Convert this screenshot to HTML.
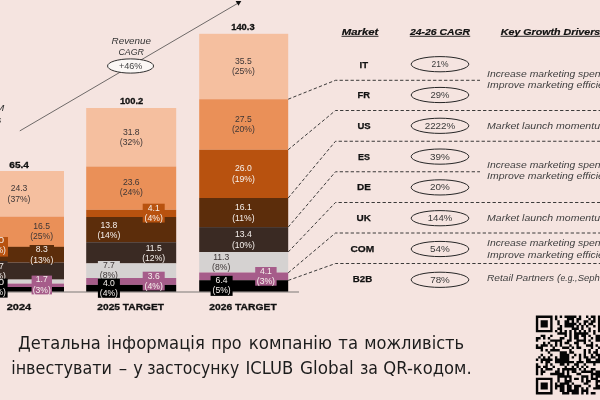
<!DOCTYPE html>
<html lang="uk"><head><meta charset="utf-8"><title>ICLUB Global</title>
<style>
html,body{margin:0;padding:0;background:#f5e4e0;}
body{width:600px;height:400px;overflow:hidden;}
svg{display:block;}
text{font-family:"Liberation Sans",sans-serif;}
.l{font-size:8.6px;text-anchor:middle;}
.t{font-size:9.2px;font-weight:bold;text-anchor:middle;fill:#111;stroke:#111;stroke-width:0.3px;}
.y{font-size:9.8px;font-weight:bold;text-anchor:middle;fill:#111;stroke:#111;stroke-width:0.3px;}
.i{font-size:8.6px;font-style:italic;fill:#333;}
.h{font-size:9px;font-weight:bold;font-style:italic;fill:#111;stroke:#111;stroke-width:0.2px;}
.m{font-size:9.3px;font-weight:bold;text-anchor:middle;fill:#111;stroke:#111;stroke-width:0.25px;}
.p{font-size:9.3px;text-anchor:middle;fill:#3a3a3a;}
.g{font-size:8.6px;font-style:italic;fill:#404040;}
.d{fill:none;stroke:#262626;stroke-width:0.9;stroke-dasharray:3.3 2.2;}
.u{font-size:17.2px;fill:#1c1c1c;font-family:"DejaVu Sans","Liberation Sans",sans-serif;}
</style></head><body>
<svg width="600" height="400" viewBox="0 0 600 400">
<rect x="0" y="0" width="600" height="400" fill="#f5e4e0"/>
<rect x="-26" y="171" width="90" height="45.6" fill="#f5bf9f"/>
<rect x="-26" y="216.6" width="90" height="29.8" fill="#ea9058"/>
<rect x="-26" y="246.4" width="90" height="0.6" fill="#b8520f"/>
<rect x="-26" y="247" width="90" height="15.6" fill="#5c2d0b"/>
<rect x="-26" y="262.6" width="90" height="17.0" fill="#3a2a23"/>
<rect x="-26" y="279.6" width="90" height="4.0" fill="#d5d2d1"/>
<rect x="-26" y="283.6" width="90" height="3.4" fill="#a65c8a"/>
<rect x="-26" y="287" width="90" height="4.8" fill="#000000"/>
<rect x="86.2" y="108" width="90" height="58.5" fill="#f5bf9f"/>
<rect x="86.2" y="166.5" width="90" height="43.3" fill="#ea9058"/>
<rect x="86.2" y="209.8" width="90" height="7.2" fill="#b8520f"/>
<rect x="86.2" y="217" width="90" height="25.2" fill="#5c2d0b"/>
<rect x="86.2" y="242.2" width="90" height="21.2" fill="#3a2a23"/>
<rect x="86.2" y="263.4" width="90" height="14.6" fill="#d5d2d1"/>
<rect x="86.2" y="278" width="90" height="6.9" fill="#a65c8a"/>
<rect x="86.2" y="284.9" width="90" height="6.9" fill="#000000"/>
<rect x="199.2" y="33.8" width="89" height="65.4" fill="#f5bf9f"/>
<rect x="199.2" y="99.2" width="89" height="50.5" fill="#ea9058"/>
<rect x="199.2" y="149.7" width="89" height="48.3" fill="#b8520f"/>
<rect x="199.2" y="198" width="89" height="29.1" fill="#5c2d0b"/>
<rect x="199.2" y="227.1" width="89" height="24.9" fill="#3a2a23"/>
<rect x="199.2" y="252" width="89" height="20.5" fill="#d5d2d1"/>
<rect x="199.2" y="272.5" width="89" height="7.7" fill="#a65c8a"/>
<rect x="199.2" y="280.2" width="89" height="11.6" fill="#000000"/>
<rect x="0" y="291.5" width="299" height="1" fill="#7d7876"/>
<text x="19" y="191.3" class="l" fill="#3d3636">24.3</text>
<text x="19" y="201.5" class="l" fill="#3d3636">(37%)</text>
<text x="41.6" y="229.1" class="l" fill="#3d3636">16.5</text>
<text x="41.6" y="239.3" class="l" fill="#3d3636">(25%)</text>
<rect x="29.6" y="245" width="24.4" height="18.6" fill="#5c2d0b"/>
<text x="41.8" y="252.3" class="l" fill="#f6f0ec">8.3</text>
<text x="41.8" y="262.5" class="l" fill="#f6f0ec">(13%)</text>
<rect x="31.6" y="275.6" width="20.4" height="18.8" fill="#a65c8a"/>
<text x="41.8" y="282.3" class="l" fill="#f6f0ec">1.7</text>
<text x="41.8" y="292.5" class="l" fill="#f6f0ec">(3%)</text>
<rect x="-16" y="237" width="24" height="19.6" fill="#b8520f"/>
<text x="-2.9" y="243.1" class="l" fill="#f6f0ec" textLength="14" lengthAdjust="spacingAndGlyphs">1.0</text>
<text x="-3.2" y="253.3" class="l" fill="#f6f0ec">(2%)</text>
<rect x="-16" y="261" width="23.6" height="19" fill="#3a2a23"/>
<text x="-2.2" y="268.7" class="l" fill="#f6f0ec">5.7</text>
<text x="-3.2" y="278.9" class="l" fill="#f6f0ec">(9%)</text>
<rect x="-16" y="278.6" width="23.6" height="19.0" fill="#000000"/>
<text x="-2.9" y="285.1" class="l" fill="#f6f0ec" textLength="14" lengthAdjust="spacingAndGlyphs">2.0</text>
<text x="-3.2" y="295.3" class="l" fill="#f6f0ec">(3%)</text>
<text x="131.3" y="135.1" class="l" fill="#3d3636">31.8</text>
<text x="131.3" y="145.3" class="l" fill="#3d3636">(32%)</text>
<text x="131.3" y="185.1" class="l" fill="#3d3636">23.6</text>
<text x="131.3" y="195.3" class="l" fill="#3d3636">(24%)</text>
<rect x="142.7" y="203.7" width="22.0" height="18.8" fill="#b8520f"/>
<text x="153.7" y="211.2" class="l" fill="#f6f0ec">4.1</text>
<text x="153.7" y="221.4" class="l" fill="#f6f0ec">(4%)</text>
<text x="108.9" y="227.8" class="l" fill="#f6f0ec">13.8</text>
<text x="108.9" y="238.0" class="l" fill="#f6f0ec">(14%)</text>
<text x="153.7" y="250.7" class="l" fill="#f6f0ec">11.5</text>
<text x="153.7" y="260.9" class="l" fill="#f6f0ec">(12%)</text>
<rect x="97.9" y="261" width="22.0" height="18" fill="#d5d2d1"/>
<text x="108.9" y="267.5" class="l" fill="#3d3636">7.7</text>
<text x="108.9" y="277.7" class="l" fill="#3d3636">(8%)</text>
<rect x="142.7" y="271.7" width="22.0" height="18.7" fill="#a65c8a"/>
<text x="153.7" y="279.1" class="l" fill="#f6f0ec">3.6</text>
<text x="153.7" y="289.3" class="l" fill="#f6f0ec">(4%)</text>
<rect x="97.9" y="278.5" width="22.0" height="19.3" fill="#000000"/>
<text x="108.9" y="285.95" class="l" fill="#f6f0ec">4.0</text>
<text x="108.9" y="296.15" class="l" fill="#f6f0ec">(4%)</text>
<text x="243.4" y="63.7" class="l" fill="#3d3636">35.5</text>
<text x="243.4" y="73.9" class="l" fill="#3d3636">(25%)</text>
<text x="243.4" y="121.9" class="l" fill="#3d3636">27.5</text>
<text x="243.4" y="132.1" class="l" fill="#3d3636">(20%)</text>
<text x="243.4" y="171.4" class="l" fill="#f6f0ec">26.0</text>
<text x="243.4" y="181.6" class="l" fill="#f6f0ec">(19%)</text>
<text x="243.4" y="210.3" class="l" fill="#f6f0ec">16.1</text>
<text x="243.4" y="220.5" class="l" fill="#f6f0ec">(11%)</text>
<text x="243.4" y="237.3" class="l" fill="#f6f0ec">13.4</text>
<text x="243.4" y="247.5" class="l" fill="#f6f0ec">(10%)</text>
<text x="221.2" y="259.8" class="l" fill="#3d3636">11.3</text>
<text x="221.2" y="270.0" class="l" fill="#3d3636">(8%)</text>
<rect x="255.2" y="267" width="21.4" height="18.7" fill="#a65c8a"/>
<text x="265.9" y="273.6" class="l" fill="#f6f0ec">4.1</text>
<text x="265.9" y="283.8" class="l" fill="#f6f0ec">(3%)</text>
<rect x="210.6" y="275.8" width="22.0" height="20.1" fill="#000000"/>
<text x="221.6" y="283.2" class="l" fill="#f6f0ec">6.4</text>
<text x="221.6" y="293.4" class="l" fill="#f6f0ec">(5%)</text>
<text x="19.15" y="168" class="t" textLength="19.7" lengthAdjust="spacingAndGlyphs">65.4</text>
<text x="131.6" y="103.8" class="t" textLength="23.4" lengthAdjust="spacingAndGlyphs">100.2</text>
<text x="242.9" y="29.6" class="t" textLength="23.4" lengthAdjust="spacingAndGlyphs">140.3</text>
<text x="19" y="309.6" class="y" textLength="24.5" lengthAdjust="spacingAndGlyphs">2024</text>
<text x="130.65" y="309.6" class="y" textLength="66.7" lengthAdjust="spacingAndGlyphs">2025 TARGET</text>
<text x="243" y="309.6" class="y" textLength="67.4" lengthAdjust="spacingAndGlyphs">2026 TARGET</text>
<line x1="19.8" y1="130.9" x2="237.8" y2="3.3" stroke="#333" stroke-width="0.7"/>
<polygon points="235.6,1.1 241.3,1.1 238.5,5.7" fill="#111"/>
<text x="131.3" y="44.1" class="i" text-anchor="middle" textLength="39.4" lengthAdjust="spacingAndGlyphs">Revenue</text>
<text x="131.2" y="54.7" class="i" text-anchor="middle" textLength="25.6" lengthAdjust="spacingAndGlyphs">CAGR</text>
<ellipse cx="130.55" cy="66" rx="23" ry="7.1" fill="#fbf7f5" stroke="#1a1a1a" stroke-width="0.9"/>
<text x="130.7" y="69" class="l" fill="#444" textLength="23.5" lengthAdjust="spacingAndGlyphs">+46%</text>
<text x="4.4" y="110.6" class="i" text-anchor="end" textLength="32" lengthAdjust="spacingAndGlyphs">EURM</text>
<text x="1.2" y="123.4" class="i" text-anchor="end">Sales</text>
<text x="360" y="34.5" class="h" text-anchor="middle" textLength="36.5" lengthAdjust="spacingAndGlyphs">Market</text>
<rect x="341.5" y="35.8" width="37" height="0.9" fill="#111"/>
<text x="440" y="34.5" class="h" text-anchor="middle" textLength="60" lengthAdjust="spacingAndGlyphs">24-26 CAGR</text>
<rect x="409.8" y="35.8" width="60.4" height="0.9" fill="#111"/>
<text x="500.8" y="34.5" class="h" textLength="99.5" lengthAdjust="spacingAndGlyphs">Key Growth Drivers</text>
<rect x="500.6" y="35.8" width="99.4" height="0.9" fill="#111"/>
<text x="363.75" y="67.8" class="m" textLength="8.5" lengthAdjust="spacingAndGlyphs">IT</text>
<ellipse cx="440" cy="64.2" rx="28.8" ry="7.6" fill="none" stroke="#262626" stroke-width="1"/>
<text x="440" y="67.4" class="p" textLength="17.0" lengthAdjust="spacingAndGlyphs">21%</text>
<text x="363.75" y="98.45" class="m" textLength="12.5" lengthAdjust="spacingAndGlyphs">FR</text>
<ellipse cx="440" cy="95.0" rx="28.8" ry="7.6" fill="none" stroke="#262626" stroke-width="1"/>
<text x="440" y="98.15" class="p" textLength="19.0" lengthAdjust="spacingAndGlyphs">29%</text>
<text x="364.0" y="129.1" class="m" textLength="13.2" lengthAdjust="spacingAndGlyphs">US</text>
<ellipse cx="440" cy="125.8" rx="28.8" ry="7.6" fill="none" stroke="#262626" stroke-width="1"/>
<text x="440" y="128.9" class="p" textLength="30.6" lengthAdjust="spacingAndGlyphs">2222%</text>
<text x="364.0" y="159.75" class="m" textLength="12" lengthAdjust="spacingAndGlyphs">ES</text>
<ellipse cx="440" cy="156.6" rx="28.8" ry="7.6" fill="none" stroke="#262626" stroke-width="1"/>
<text x="440" y="159.65" class="p" textLength="19.8" lengthAdjust="spacingAndGlyphs">39%</text>
<text x="364.0" y="190.4" class="m" textLength="13.8" lengthAdjust="spacingAndGlyphs">DE</text>
<ellipse cx="440" cy="187.4" rx="28.8" ry="7.6" fill="none" stroke="#262626" stroke-width="1"/>
<text x="440" y="190.4" class="p" textLength="19.8" lengthAdjust="spacingAndGlyphs">20%</text>
<text x="363.7" y="221.05" class="m" textLength="14.4" lengthAdjust="spacingAndGlyphs">UK</text>
<ellipse cx="440" cy="218.2" rx="28.8" ry="7.6" fill="none" stroke="#262626" stroke-width="1"/>
<text x="440" y="221.15" class="p" textLength="24.6" lengthAdjust="spacingAndGlyphs">144%</text>
<text x="362.4" y="251.7" class="m" textLength="23.8" lengthAdjust="spacingAndGlyphs">COM</text>
<ellipse cx="440" cy="249.0" rx="28.8" ry="7.6" fill="none" stroke="#262626" stroke-width="1"/>
<text x="440" y="251.9" class="p" textLength="19.8" lengthAdjust="spacingAndGlyphs">54%</text>
<text x="362.5" y="282.35" class="m" textLength="19.4" lengthAdjust="spacingAndGlyphs">B2B</text>
<ellipse cx="440" cy="279.8" rx="28.8" ry="7.6" fill="none" stroke="#262626" stroke-width="1"/>
<text x="440" y="282.65" class="p" textLength="19.6" lengthAdjust="spacingAndGlyphs">78%</text>
<polyline points="288.2,99.2 335.5,80.3 480,80.3" class="d"/>
<polyline points="288.2,149.7 335.5,110.5 600,110.5" class="d"/>
<polyline points="288.2,198 335.5,141.25 600,141.25" class="d"/>
<polyline points="288.2,227.1 335.5,171.75 480,171.75" class="d"/>
<polyline points="288.2,252 335.5,202.5 600,202.5" class="d"/>
<polyline points="288.2,272.8 335.5,233 600,233" class="d"/>
<polyline points="288.2,280.4 335.5,263.5 600,263.5" class="d"/>
<text x="487" y="76.7" class="g" textLength="119.4" lengthAdjust="spacingAndGlyphs">Increase marketing spend</text>
<text x="487" y="87.6" class="g" textLength="133.2" lengthAdjust="spacingAndGlyphs">Improve marketing efficiency</text>
<text x="487" y="128.8" class="g" textLength="121.8" lengthAdjust="spacingAndGlyphs">Market launch momentum</text>
<text x="487" y="167.5" class="g" textLength="119.4" lengthAdjust="spacingAndGlyphs">Increase marketing spend</text>
<text x="487" y="178.8" class="g" textLength="133.2" lengthAdjust="spacingAndGlyphs">Improve marketing efficiency</text>
<text x="487" y="220.8" class="g" textLength="121.8" lengthAdjust="spacingAndGlyphs">Market launch momentum</text>
<text x="487" y="245.8" class="g" textLength="119.4" lengthAdjust="spacingAndGlyphs">Increase marketing spend</text>
<text x="487" y="257.5" class="g" textLength="133.2" lengthAdjust="spacingAndGlyphs">Improve marketing efficiency</text>
<text x="487" y="280.8" class="g" textLength="73.3" lengthAdjust="spacingAndGlyphs">Retail Partners (</text>
<text x="560.5" y="280.8" class="g" textLength="16.8" lengthAdjust="spacingAndGlyphs">e.g.,</text>
<text x="577.8" y="280.8" class="g" textLength="38.9" lengthAdjust="spacingAndGlyphs">Sephora)</text>
<text x="18.0" y="348.9" class="u" textLength="82.8" lengthAdjust="spacingAndGlyphs">Детальна</text>
<text x="106.8" y="348.9" class="u" textLength="98.0" lengthAdjust="spacingAndGlyphs">інформація</text>
<text x="211.2" y="348.9" class="u" textLength="30.5" lengthAdjust="spacingAndGlyphs">про</text>
<text x="248.7" y="348.9" class="u" textLength="83.3" lengthAdjust="spacingAndGlyphs">компанію</text>
<text x="338.3" y="348.9" class="u" textLength="19.7" lengthAdjust="spacingAndGlyphs">та</text>
<text x="364.2" y="348.9" class="u" textLength="100.0" lengthAdjust="spacingAndGlyphs">можливість</text>
<text x="11.2" y="374.1" class="u" textLength="100.8" lengthAdjust="spacingAndGlyphs">інвестувати</text>
<text x="118.8" y="374.1" class="u" textLength="8.4" lengthAdjust="spacingAndGlyphs">–</text>
<text x="133.2" y="374.1" class="u" textLength="9.6" lengthAdjust="spacingAndGlyphs">у</text>
<text x="147.2" y="374.1" class="u" textLength="92.0" lengthAdjust="spacingAndGlyphs">застосунку</text>
<text x="245.4" y="374.1" class="u" textLength="47.9" lengthAdjust="spacingAndGlyphs">ICLUB</text>
<text x="300" y="374.1" class="u" textLength="53.7" lengthAdjust="spacingAndGlyphs">Global</text>
<text x="360" y="374.1" class="u" textLength="18" lengthAdjust="spacingAndGlyphs">за</text>
<text x="383.3" y="374.1" class="u" textLength="88.4" lengthAdjust="spacingAndGlyphs">QR-кодом.</text>
<path fill="#050505" d="M535.85 315.55h16.72v2.42h-16.72zM554.95 315.55h2.39v2.42h-2.39zM559.73 315.55h2.39v2.42h-2.39zM564.51 315.55h11.94v2.42h-11.94zM578.83 315.55h2.39v2.42h-2.39zM586.00 315.55h2.39v2.42h-2.39zM590.77 315.55h4.78v2.42h-4.78zM597.94 315.55h16.72v2.42h-16.72zM535.85 317.94h2.39v2.42h-2.39zM550.18 317.94h2.39v2.42h-2.39zM554.95 317.94h2.39v2.42h-2.39zM566.89 317.94h7.16v2.42h-7.16zM576.45 317.94h4.78v2.42h-4.78zM588.39 317.94h2.39v2.42h-2.39zM593.16 317.94h2.39v2.42h-2.39zM597.94 317.94h2.39v2.42h-2.39zM612.27 317.94h2.39v2.42h-2.39zM535.85 320.33h2.39v2.42h-2.39zM540.63 320.33h7.16v2.42h-7.16zM550.18 320.33h2.39v2.42h-2.39zM557.34 320.33h2.39v2.42h-2.39zM564.51 320.33h4.78v2.42h-4.78zM571.67 320.33h2.39v2.42h-2.39zM576.45 320.33h2.39v2.42h-2.39zM583.61 320.33h4.78v2.42h-4.78zM590.77 320.33h4.78v2.42h-4.78zM597.94 320.33h2.39v2.42h-2.39zM602.71 320.33h7.16v2.42h-7.16zM612.27 320.33h2.39v2.42h-2.39zM535.85 322.71h2.39v2.42h-2.39zM540.63 322.71h7.16v2.42h-7.16zM550.18 322.71h2.39v2.42h-2.39zM557.34 322.71h2.39v2.42h-2.39zM564.51 322.71h11.94v2.42h-11.94zM578.83 322.71h2.39v2.42h-2.39zM583.61 322.71h2.39v2.42h-2.39zM588.39 322.71h4.78v2.42h-4.78zM597.94 322.71h2.39v2.42h-2.39zM602.71 322.71h7.16v2.42h-7.16zM612.27 322.71h2.39v2.42h-2.39zM535.85 325.10h2.39v2.42h-2.39zM540.63 325.10h7.16v2.42h-7.16zM550.18 325.10h2.39v2.42h-2.39zM559.73 325.10h2.39v2.42h-2.39zM564.51 325.10h9.55v2.42h-9.55zM576.45 325.10h2.39v2.42h-2.39zM581.22 325.10h2.39v2.42h-2.39zM586.00 325.10h2.39v2.42h-2.39zM593.16 325.10h2.39v2.42h-2.39zM597.94 325.10h2.39v2.42h-2.39zM602.71 325.10h7.16v2.42h-7.16zM612.27 325.10h2.39v2.42h-2.39zM535.85 327.49h2.39v2.42h-2.39zM550.18 327.49h2.39v2.42h-2.39zM557.34 327.49h4.78v2.42h-4.78zM571.67 327.49h7.16v2.42h-7.16zM581.22 327.49h2.39v2.42h-2.39zM588.39 327.49h2.39v2.42h-2.39zM597.94 327.49h2.39v2.42h-2.39zM612.27 327.49h2.39v2.42h-2.39zM535.85 329.88h16.72v2.42h-16.72zM554.95 329.88h2.39v2.42h-2.39zM559.73 329.88h2.39v2.42h-2.39zM564.51 329.88h2.39v2.42h-2.39zM569.28 329.88h2.39v2.42h-2.39zM574.06 329.88h2.39v2.42h-2.39zM578.83 329.88h2.39v2.42h-2.39zM583.61 329.88h2.39v2.42h-2.39zM588.39 329.88h2.39v2.42h-2.39zM593.16 329.88h2.39v2.42h-2.39zM597.94 329.88h16.72v2.42h-16.72zM557.34 332.27h9.55v2.42h-9.55zM569.28 332.27h2.39v2.42h-2.39zM574.06 332.27h14.33v2.42h-14.33zM593.16 332.27h2.39v2.42h-2.39zM540.63 334.65h4.78v2.42h-4.78zM550.18 334.65h2.39v2.42h-2.39zM564.51 334.65h2.39v2.42h-2.39zM569.28 334.65h2.39v2.42h-2.39zM574.06 334.65h4.78v2.42h-4.78zM581.22 334.65h4.78v2.42h-4.78zM588.39 334.65h2.39v2.42h-2.39zM595.55 334.65h14.33v2.42h-14.33zM535.85 337.04h4.78v2.42h-4.78zM543.01 337.04h2.39v2.42h-2.39zM547.79 337.04h2.39v2.42h-2.39zM559.73 337.04h4.78v2.42h-4.78zM569.28 337.04h2.39v2.42h-2.39zM574.06 337.04h4.78v2.42h-4.78zM583.61 337.04h2.39v2.42h-2.39zM590.77 337.04h2.39v2.42h-2.39zM595.55 337.04h7.16v2.42h-7.16zM605.10 337.04h4.78v2.42h-4.78zM612.27 337.04h2.39v2.42h-2.39zM535.85 339.43h2.39v2.42h-2.39zM550.18 339.43h11.94v2.42h-11.94zM566.89 339.43h4.78v2.42h-4.78zM576.45 339.43h9.55v2.42h-9.55zM588.39 339.43h2.39v2.42h-2.39zM595.55 339.43h4.78v2.42h-4.78zM602.71 339.43h2.39v2.42h-2.39zM607.49 339.43h4.78v2.42h-4.78zM543.01 341.82h2.39v2.42h-2.39zM547.79 341.82h2.39v2.42h-2.39zM554.95 341.82h2.39v2.42h-2.39zM559.73 341.82h2.39v2.42h-2.39zM564.51 341.82h4.78v2.42h-4.78zM574.06 341.82h4.78v2.42h-4.78zM583.61 341.82h2.39v2.42h-2.39zM590.77 341.82h2.39v2.42h-2.39zM602.71 341.82h7.16v2.42h-7.16zM535.85 344.21h2.39v2.42h-2.39zM540.63 344.21h7.16v2.42h-7.16zM550.18 344.21h2.39v2.42h-2.39zM554.95 344.21h2.39v2.42h-2.39zM559.73 344.21h2.39v2.42h-2.39zM569.28 344.21h2.39v2.42h-2.39zM576.45 344.21h2.39v2.42h-2.39zM586.00 344.21h7.16v2.42h-7.16zM595.55 344.21h2.39v2.42h-2.39zM600.33 344.21h7.16v2.42h-7.16zM609.88 344.21h2.39v2.42h-2.39zM535.85 346.59h7.16v2.42h-7.16zM552.57 346.59h2.39v2.42h-2.39zM562.12 346.59h7.16v2.42h-7.16zM571.67 346.59h2.39v2.42h-2.39zM576.45 346.59h4.78v2.42h-4.78zM590.77 346.59h2.39v2.42h-2.39zM597.94 346.59h2.39v2.42h-2.39zM605.10 346.59h9.55v2.42h-9.55zM540.63 348.98h2.39v2.42h-2.39zM545.40 348.98h2.39v2.42h-2.39zM550.18 348.98h9.55v2.42h-9.55zM569.28 348.98h2.39v2.42h-2.39zM583.61 348.98h2.39v2.42h-2.39zM588.39 348.98h2.39v2.42h-2.39zM595.55 348.98h2.39v2.42h-2.39zM605.10 348.98h7.16v2.42h-7.16zM547.79 351.37h2.39v2.42h-2.39zM559.73 351.37h7.16v2.42h-7.16zM569.28 351.37h4.78v2.42h-4.78zM583.61 351.37h2.39v2.42h-2.39zM588.39 351.37h2.39v2.42h-2.39zM593.16 351.37h4.78v2.42h-4.78zM600.33 351.37h9.55v2.42h-9.55zM540.63 353.76h2.39v2.42h-2.39zM550.18 353.76h2.39v2.42h-2.39zM559.73 353.76h9.55v2.42h-9.55zM574.06 353.76h2.39v2.42h-2.39zM578.83 353.76h2.39v2.42h-2.39zM583.61 353.76h2.39v2.42h-2.39zM590.77 353.76h2.39v2.42h-2.39zM595.55 353.76h9.55v2.42h-9.55zM612.27 353.76h2.39v2.42h-2.39zM538.24 356.15h2.39v2.42h-2.39zM543.01 356.15h2.39v2.42h-2.39zM547.79 356.15h2.39v2.42h-2.39zM554.95 356.15h2.39v2.42h-2.39zM559.73 356.15h9.55v2.42h-9.55zM571.67 356.15h2.39v2.42h-2.39zM578.83 356.15h2.39v2.42h-2.39zM583.61 356.15h4.78v2.42h-4.78zM590.77 356.15h4.78v2.42h-4.78zM597.94 356.15h4.78v2.42h-4.78zM605.10 356.15h4.78v2.42h-4.78zM612.27 356.15h2.39v2.42h-2.39zM535.85 358.53h2.39v2.42h-2.39zM540.63 358.53h11.94v2.42h-11.94zM554.95 358.53h14.33v2.42h-14.33zM578.83 358.53h2.39v2.42h-2.39zM586.00 358.53h4.78v2.42h-4.78zM595.55 358.53h9.55v2.42h-9.55zM607.49 358.53h4.78v2.42h-4.78zM540.63 360.92h2.39v2.42h-2.39zM545.40 360.92h4.78v2.42h-4.78zM554.95 360.92h19.10v2.42h-19.10zM576.45 360.92h7.16v2.42h-7.16zM586.00 360.92h28.66v2.42h-28.66zM535.85 363.31h2.39v2.42h-2.39zM545.40 363.31h2.39v2.42h-2.39zM550.18 363.31h2.39v2.42h-2.39zM559.73 363.31h4.78v2.42h-4.78zM566.89 363.31h2.39v2.42h-2.39zM574.06 363.31h4.78v2.42h-4.78zM583.61 363.31h2.39v2.42h-2.39zM593.16 363.31h2.39v2.42h-2.39zM600.33 363.31h7.16v2.42h-7.16zM609.88 363.31h4.78v2.42h-4.78zM535.85 365.70h4.78v2.42h-4.78zM543.01 365.70h4.78v2.42h-4.78zM552.57 365.70h2.39v2.42h-2.39zM564.51 365.70h2.39v2.42h-2.39zM571.67 365.70h2.39v2.42h-2.39zM576.45 365.70h2.39v2.42h-2.39zM581.22 365.70h2.39v2.42h-2.39zM586.00 365.70h2.39v2.42h-2.39zM607.49 365.70h2.39v2.42h-2.39zM612.27 365.70h2.39v2.42h-2.39zM535.85 368.09h2.39v2.42h-2.39zM540.63 368.09h2.39v2.42h-2.39zM545.40 368.09h7.16v2.42h-7.16zM557.34 368.09h2.39v2.42h-2.39zM562.12 368.09h14.33v2.42h-14.33zM578.83 368.09h2.39v2.42h-2.39zM583.61 368.09h2.39v2.42h-2.39zM590.77 368.09h4.78v2.42h-4.78zM602.71 368.09h9.55v2.42h-9.55zM535.85 370.47h2.39v2.42h-2.39zM540.63 370.47h4.78v2.42h-4.78zM554.95 370.47h4.78v2.42h-4.78zM562.12 370.47h2.39v2.42h-2.39zM566.89 370.47h2.39v2.42h-2.39zM571.67 370.47h4.78v2.42h-4.78zM581.22 370.47h11.94v2.42h-11.94zM595.55 370.47h4.78v2.42h-4.78zM602.71 370.47h11.94v2.42h-11.94zM535.85 372.86h2.39v2.42h-2.39zM540.63 372.86h2.39v2.42h-2.39zM550.18 372.86h14.33v2.42h-14.33zM566.89 372.86h2.39v2.42h-2.39zM576.45 372.86h4.78v2.42h-4.78zM590.77 372.86h14.33v2.42h-14.33zM609.88 372.86h2.39v2.42h-2.39zM557.34 375.25h14.33v2.42h-14.33zM581.22 375.25h7.16v2.42h-7.16zM590.77 375.25h2.39v2.42h-2.39zM595.55 375.25h4.78v2.42h-4.78zM602.71 375.25h2.39v2.42h-2.39zM607.49 375.25h2.39v2.42h-2.39zM612.27 375.25h2.39v2.42h-2.39zM535.85 377.64h16.72v2.42h-16.72zM557.34 377.64h2.39v2.42h-2.39zM564.51 377.64h2.39v2.42h-2.39zM569.28 377.64h2.39v2.42h-2.39zM574.06 377.64h4.78v2.42h-4.78zM581.22 377.64h2.39v2.42h-2.39zM586.00 377.64h2.39v2.42h-2.39zM590.77 377.64h7.16v2.42h-7.16zM602.71 377.64h2.39v2.42h-2.39zM607.49 377.64h2.39v2.42h-2.39zM535.85 380.03h2.39v2.42h-2.39zM550.18 380.03h2.39v2.42h-2.39zM557.34 380.03h2.39v2.42h-2.39zM564.51 380.03h7.16v2.42h-7.16zM581.22 380.03h2.39v2.42h-2.39zM586.00 380.03h4.78v2.42h-4.78zM595.55 380.03h4.78v2.42h-4.78zM602.71 380.03h7.16v2.42h-7.16zM535.85 382.41h2.39v2.42h-2.39zM540.63 382.41h7.16v2.42h-7.16zM550.18 382.41h2.39v2.42h-2.39zM554.95 382.41h2.39v2.42h-2.39zM559.73 382.41h9.55v2.42h-9.55zM571.67 382.41h2.39v2.42h-2.39zM583.61 382.41h4.78v2.42h-4.78zM595.55 382.41h2.39v2.42h-2.39zM600.33 382.41h7.16v2.42h-7.16zM609.88 382.41h2.39v2.42h-2.39zM535.85 384.80h2.39v2.42h-2.39zM540.63 384.80h7.16v2.42h-7.16zM550.18 384.80h2.39v2.42h-2.39zM554.95 384.80h9.55v2.42h-9.55zM566.89 384.80h4.78v2.42h-4.78zM574.06 384.80h7.16v2.42h-7.16zM588.39 384.80h2.39v2.42h-2.39zM595.55 384.80h4.78v2.42h-4.78zM602.71 384.80h4.78v2.42h-4.78zM609.88 384.80h4.78v2.42h-4.78zM535.85 387.19h2.39v2.42h-2.39zM540.63 387.19h7.16v2.42h-7.16zM550.18 387.19h2.39v2.42h-2.39zM554.95 387.19h2.39v2.42h-2.39zM559.73 387.19h4.78v2.42h-4.78zM566.89 387.19h4.78v2.42h-4.78zM574.06 387.19h4.78v2.42h-4.78zM581.22 387.19h2.39v2.42h-2.39zM586.00 387.19h2.39v2.42h-2.39zM593.16 387.19h9.55v2.42h-9.55zM607.49 387.19h2.39v2.42h-2.39zM535.85 389.58h2.39v2.42h-2.39zM550.18 389.58h2.39v2.42h-2.39zM559.73 389.58h4.78v2.42h-4.78zM566.89 389.58h11.94v2.42h-11.94zM581.22 389.58h7.16v2.42h-7.16zM602.71 389.58h2.39v2.42h-2.39zM607.49 389.58h2.39v2.42h-2.39zM535.85 391.97h16.72v2.42h-16.72zM562.12 391.97h7.16v2.42h-7.16zM571.67 391.97h7.16v2.42h-7.16zM581.22 391.97h2.39v2.42h-2.39zM586.00 391.97h2.39v2.42h-2.39zM590.77 391.97h4.78v2.42h-4.78zM600.33 391.97h2.39v2.42h-2.39zM605.10 391.97h2.39v2.42h-2.39zM609.88 391.97h2.39v2.42h-2.39z"/>
</svg>
</body></html>
